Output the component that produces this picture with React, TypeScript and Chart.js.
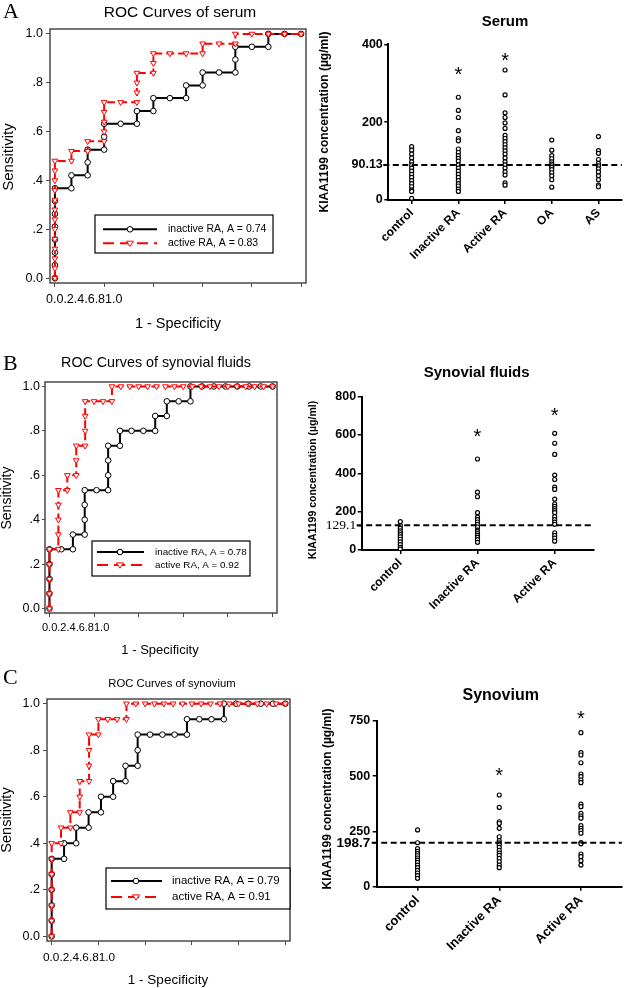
import React, { useEffect, useRef } from "react";
import { Chart, registerables } from "chart.js";
Chart.register(...registerables);

const SANS = "'Liberation Sans', Arial, Helvetica, sans-serif";
const SERIF = "'Liberation Serif', 'Times New Roman', serif";

// ---------------- DATA ----------------
// ROC common
const rocTicks = [0, 0.2, 0.4, 0.6, 0.8, 1.0];
const rocTickLabels = ["0.0", ".2", ".4", ".6", ".8", "1.0"];
const rocXTickRow = "0.0.2.4.6.81.0";
const rocXLabel = "1 - Specificity";
const rocYLabel = "Sensitivity";

// Panel A - serum ROC
const serumRocTitle = "ROC Curves of serum";
const serumRocLegend = ["inactive RA, A = 0.74", "active RA, A = 0.83"];
const serumInactiveFpr = [0, 0, 0, 0, 0, 0, 0, 0, 0.067, 0.067, 0.133, 0.133, 0.133, 0.2, 0.2, 0.2, 0.267, 0.333, 0.333, 0.4, 0.4, 0.467, 0.533, 0.533, 0.6, 0.6, 0.667, 0.733, 0.733, 0.733, 0.8, 0.867, 0.867, 0.933, 1];
const serumInactiveTpr = [0, 0.053, 0.105, 0.158, 0.211, 0.263, 0.316, 0.368, 0.368, 0.421, 0.421, 0.474, 0.526, 0.526, 0.579, 0.632, 0.632, 0.632, 0.684, 0.684, 0.737, 0.737, 0.737, 0.789, 0.789, 0.842, 0.842, 0.842, 0.895, 0.947, 0.947, 0.947, 1, 1, 1];
const serumActiveFpr = [0, 0, 0, 0, 0, 0, 0, 0, 0, 0, 0, 0, 0, 0.067, 0.067, 0.133, 0.133, 0.2, 0.2, 0.2, 0.2, 0.2, 0.267, 0.333, 0.333, 0.333, 0.333, 0.4, 0.4, 0.4, 0.467, 0.533, 0.6, 0.6, 0.667, 0.733, 0.733, 0.8, 0.867, 0.933, 1];
const serumActiveTpr = [0, 0.04, 0.08, 0.12, 0.16, 0.2, 0.24, 0.28, 0.32, 0.36, 0.4, 0.44, 0.48, 0.48, 0.52, 0.52, 0.56, 0.56, 0.6, 0.64, 0.68, 0.72, 0.72, 0.72, 0.76, 0.8, 0.84, 0.84, 0.88, 0.92, 0.92, 0.92, 0.92, 0.96, 0.96, 0.96, 1, 1, 1, 1, 1];

// Panel B - synovial fluid ROC
const fluidRocTitle = "ROC Curves of synovial fluids";
const fluidRocLegend = ["inactive RA, A = 0.78", "active RA, A = 0.92"];
const fluidInactiveFpr = [0, 0, 0, 0, 0, 0.053, 0.105, 0.105, 0.158, 0.158, 0.158, 0.158, 0.211, 0.263, 0.263, 0.263, 0.263, 0.316, 0.316, 0.368, 0.421, 0.474, 0.474, 0.526, 0.526, 0.579, 0.632, 0.632, 0.684, 0.737, 0.789, 0.842, 0.895, 0.947, 1];
const fluidInactiveTpr = [0, 0.067, 0.133, 0.2, 0.267, 0.267, 0.267, 0.333, 0.333, 0.4, 0.467, 0.533, 0.533, 0.533, 0.6, 0.667, 0.733, 0.733, 0.8, 0.8, 0.8, 0.8, 0.867, 0.867, 0.933, 0.933, 0.933, 1, 1, 1, 1, 1, 1, 1, 1];
const fluidActiveFpr = [0, 0, 0, 0, 0, 0.04, 0.04, 0.04, 0.04, 0.04, 0.08, 0.08, 0.12, 0.12, 0.12, 0.16, 0.16, 0.16, 0.16, 0.2, 0.24, 0.28, 0.28, 0.32, 0.36, 0.4, 0.44, 0.48, 0.52, 0.56, 0.6, 0.64, 0.68, 0.72, 0.76, 0.8, 0.84, 0.88, 0.92, 0.96, 1];
const fluidActiveTpr = [0, 0.067, 0.133, 0.2, 0.267, 0.267, 0.333, 0.4, 0.467, 0.533, 0.533, 0.6, 0.6, 0.667, 0.733, 0.733, 0.8, 0.867, 0.933, 0.933, 0.933, 0.933, 1, 1, 1, 1, 1, 1, 1, 1, 1, 1, 1, 1, 1, 1, 1, 1, 1, 1, 1];

// Panel C - synovium ROC
const tissueRocTitle = "ROC Curves of synovium";
const tissueRocLegend = ["inactive RA, A = 0.79", "active RA, A = 0.91"];
const tissueInactiveFpr = [0, 0, 0, 0, 0, 0, 0.053, 0.053, 0.105, 0.105, 0.158, 0.158, 0.211, 0.211, 0.263, 0.263, 0.316, 0.316, 0.368, 0.368, 0.368, 0.421, 0.474, 0.526, 0.579, 0.579, 0.632, 0.684, 0.737, 0.737, 0.789, 0.842, 0.895, 0.947, 1];
const tissueInactiveTpr = [0, 0.067, 0.133, 0.2, 0.267, 0.333, 0.333, 0.4, 0.4, 0.467, 0.467, 0.533, 0.533, 0.6, 0.6, 0.667, 0.667, 0.733, 0.733, 0.8, 0.867, 0.867, 0.867, 0.867, 0.867, 0.933, 0.933, 0.933, 0.933, 1, 1, 1, 1, 1, 1];
const tissueActiveFpr = [0, 0, 0, 0, 0, 0, 0, 0.04, 0.04, 0.08, 0.08, 0.12, 0.12, 0.12, 0.16, 0.16, 0.16, 0.16, 0.2, 0.2, 0.24, 0.28, 0.32, 0.32, 0.36, 0.4, 0.44, 0.48, 0.52, 0.56, 0.6, 0.64, 0.68, 0.72, 0.76, 0.8, 0.84, 0.88, 0.92, 0.96, 1];
const tissueActiveTpr = [0, 0.067, 0.133, 0.2, 0.267, 0.333, 0.4, 0.4, 0.467, 0.467, 0.533, 0.533, 0.6, 0.667, 0.667, 0.733, 0.8, 0.867, 0.867, 0.933, 0.933, 0.933, 0.933, 1, 1, 1, 1, 1, 1, 1, 1, 1, 1, 1, 1, 1, 1, 1, 1, 1, 1];

// Scatter panels
const yAxisTitle = "KIAA1199 concentration (\u00b5g/ml)";

const serumTitle = "Serum";
const serumCategories = ["control", "Inactive RA", "Active RA", "OA", "AS"];
const serumControl = [137, 128, 118, 108, 98, 90, 82, 74, 66, 58, 50, 42, 34, 26, 22, 4];
const serumInactive = [264, 230, 212, 178, 158, 152, 131, 122, 114, 107, 100, 90, 82, 74, 66, 58, 50, 42, 36, 28, 22];
const serumActive = [334, 270, 224, 212, 198, 184, 166, 158, 150, 142, 134, 126, 118, 108, 98, 90, 82, 72, 64, 44, 38];
const serumOA = [154, 128, 114, 106, 98, 92, 88, 84, 78, 70, 62, 52, 33];
const serumAS = [163, 127, 120, 104, 94, 88, 80, 72, 62, 52, 38, 34];
const serumCutoff = 90.13;
const serumYTicks = [0, 200, 400];
const serumStars = [null, 332, 367, null, null];

const fluidTitle = "Synovial fluids";
const fluidCategories = ["control", "Inactive RA", "Active RA"];
const fluidControl = [148, 127, 113, 100, 90, 80, 68, 56, 42, 28, 14, 5];
const fluidInactive = [475, 302, 278, 195, 172, 158, 146, 134, 120, 104, 96, 86, 76, 66, 54, 40];
const fluidActive = [609, 557, 499, 391, 368, 328, 316, 265, 240, 228, 216, 206, 195, 174, 158, 145, 134, 90, 76, 62, 46];
const fluidCutoff = 129.1;
const fluidYTicks = [0, 200, 400, 600, 800];
const fluidStars = [null, 609, 718];

const tissueTitle = "Synovium";
const tissueCategories = ["control", "Inactive RA", "Active RA"];
const tissueControl = [257, 199, 172, 160, 150, 140, 130, 120, 110, 98, 86, 74, 62, 50, 38];
const tissueInactive = [415, 359, 294, 286, 264, 226, 208, 198, 190, 178, 164, 152, 142, 128, 113, 98, 86];
const tissueActive = [697, 607, 596, 561, 510, 498, 483, 471, 374, 362, 332, 320, 310, 276, 264, 254, 242, 200, 194, 148, 136, 118, 98];
const tissueCutoff = 198.7;
const tissueYTicks = [0, 250, 500, 750];
const tissueStars = [null, 520, 777];

// ---------------- LAYOUT ----------------
type Rect = { x: number; y: number; w: number; h: number };
type Area = { l: number; t: number; r: number; b: number };

const FRAME = "#4a4a4a";
const RED = "#ff0000";

const rocLayouts = [
  {
    letter: "A", letterPos: [3, 18],
    rect: { x: 0, y: 0, w: 316, h: 338 }, area: { l: 50, t: 29, r: 306, b: 283 },
    title: [180, 13, 15.5], sens: [9, 157, 15], spec: [178, 324, 14.5], row: [46, 300, 12.5],
    tick: { size: 12.5, len: 4, pad: 3 },
    legend: { box: [95, 215, 273, 253], lineL: 103, lineR: 157, mx: 130, y1: 229.3, y2: 243.3, tx: 168, size: 10.5 },
  },
  {
    letter: "B", letterPos: [3, 370],
    rect: { x: 0, y: 338, w: 316, h: 322 }, area: { l: 45, t: 382, r: 277, b: 613 },
    title: [156, 363, 14.3], sens: [7, 498, 14], spec: [160, 650, 13], row: [42, 628, 11],
    tick: { size: 12.5, len: 3, pad: 2 },
    legend: { box: [92, 541, 250, 576], lineL: 97, lineR: 144, mx: 120, y1: 552, y2: 565, tx: 155, size: 9.8 },
  },
  {
    letter: "C", letterPos: [3, 684],
    rect: { x: 0, y: 660, w: 316, h: 328 }, area: { l: 47, t: 699, r: 290, b: 941 },
    title: [172, 684, 11.3], sens: [7, 820, 14.5], spec: [168, 980, 13.5], row: [43, 958, 11.8],
    tick: { size: 12.5, len: 4, pad: 3 },
    legend: { box: [106, 868, 290, 909], lineL: 111, lineR: 162, mx: 136, y1: 881, y2: 897, tx: 172, size: 11.5 },
  },
];

const scatterLayouts = [
  {
    rect: { x: 300, y: 0, w: 327, h: 262 }, area: { l: 388.3, t: 44.3, r: 623, b: 200 },
    title: [505, 22, 15], ytitle: [325, 122, 12], xfont: 12, tickPad: 1.5,
    cutFont: { family: SANS, size: 12.5, weight: "bold" },
  },
  {
    rect: { x: 300, y: 338, w: 327, h: 322 }, area: { l: 361.7, t: 396.7, r: 593.3, b: 550 },
    title: [476.7, 373, 15], ytitle: [313, 480, 10.5], xfont: 12, tickPad: 1.5,
    cutFont: { family: SERIF, size: 13.5, weight: "normal" },
  },
  {
    rect: { x: 300, y: 660, w: 327, h: 328 }, area: { l: 376.7, t: 721, r: 626.7, b: 886.7 },
    title: [500.7, 696, 16], ytitle: [328, 799, 12], xfont: 13, tickPad: 2.5,
    cutFont: { family: SANS, size: 13.5, weight: "bold" },
  },
];

function fitFns(rect: Rect, area: Area) {
  return {
    padding: { left: 0, top: area.t - rect.y, right: rect.x + rect.w - area.r, bottom: 0 },
    yFit: (s: any) => {
      s.width = area.l - rect.x;
      s.paddingTop = 0; s.paddingBottom = 0; s.paddingLeft = 0; s.paddingRight = 0;
    },
    xFit: (s: any) => {
      s.height = rect.y + rect.h - area.b;
      s.paddingTop = 0; s.paddingBottom = 0; s.paddingLeft = 0; s.paddingRight = 0;
    },
  };
}

function drawTriangleDown(ctx: CanvasRenderingContext2D, x: number, y: number, r: number) {
  ctx.beginPath();
  ctx.moveTo(x - r, y - r * 0.6);
  ctx.lineTo(x + r, y - r * 0.6);
  ctx.lineTo(x, y + r * 0.9);
  ctx.closePath();
  ctx.fillStyle = "#fff";
  ctx.fill();
  ctx.strokeStyle = RED;
  ctx.lineWidth = 1;
  ctx.stroke();
}

function makeRoc(canvas: HTMLCanvasElement, idx: number, title: string, legend: string[],
  inX: number[], inY: number[], acX: number[], acY: number[]) {
  const L: any = rocLayouts[idx];
  const f = fitFns(L.rect, L.area);
  const ox = L.rect.x, oy = L.rect.y;
  const decor = {
    id: "rocDecor" + idx,
    beforeDatasetsDraw(chart: any) {
      const ctx = chart.ctx, a = chart.chartArea;
      ctx.save();
      ctx.strokeStyle = FRAME;
      ctx.lineWidth = 1.5;
      ctx.strokeRect(a.left, a.top, a.right - a.left, a.bottom - a.top);
      ctx.restore();
    },
    afterDraw(chart: any) {
      const ctx: CanvasRenderingContext2D = chart.ctx;
      ctx.save();
      ctx.fillStyle = "#000";
      ctx.font = `22px ${SERIF}`;
      ctx.textAlign = "left";
      ctx.textBaseline = "alphabetic";
      ctx.fillText(L.letter, L.letterPos[0] - ox, L.letterPos[1] - oy);

      ctx.textBaseline = "middle";
      ctx.textAlign = "center";
      ctx.font = `${L.title[2]}px ${SANS}`;
      ctx.fillText(title, L.title[0] - ox, L.title[1] - oy);
      ctx.font = `${L.spec[2]}px ${SANS}`;
      ctx.fillText(rocXLabel, L.spec[0] - ox, L.spec[1] - oy);
      ctx.save();
      ctx.translate(L.sens[0] - ox, L.sens[1] - oy);
      ctx.rotate(-Math.PI / 2);
      ctx.font = `${L.sens[2]}px ${SANS}`;
      ctx.fillText(rocYLabel, 0, 0);
      ctx.restore();
      ctx.textAlign = "left";
      ctx.font = `${L.row[2]}px ${SANS}`;
      ctx.fillText(rocXTickRow, L.row[0] - ox, L.row[1] - oy);

      // legend
      const g = L.legend;
      const bx = g.box[0] - ox, by = g.box[1] - oy, bw = g.box[2] - g.box[0], bh = g.box[3] - g.box[1];
      ctx.fillStyle = "#fff";
      ctx.fillRect(bx, by, bw, bh);
      ctx.strokeStyle = "#000";
      ctx.lineWidth = 1.2;
      ctx.strokeRect(bx, by, bw, bh);
      // black
      ctx.beginPath();
      ctx.moveTo(g.lineL - ox, g.y1 - oy);
      ctx.lineTo(g.lineR - ox, g.y1 - oy);
      ctx.lineWidth = 2;
      ctx.strokeStyle = "#000";
      ctx.stroke();
      ctx.beginPath();
      ctx.arc(g.mx - ox, g.y1 - oy, 2.8, 0, Math.PI * 2);
      ctx.fillStyle = "#fff";
      ctx.fill();
      ctx.lineWidth = 1;
      ctx.stroke();
      // red
      ctx.beginPath();
      ctx.setLineDash([11, 6]);
      ctx.moveTo(g.lineL - ox, g.y2 - oy);
      ctx.lineTo(g.lineR - ox, g.y2 - oy);
      ctx.lineWidth = 2;
      ctx.strokeStyle = RED;
      ctx.stroke();
      ctx.setLineDash([]);
      drawTriangleDown(ctx, g.mx - ox, g.y2 - oy, 3.5);
      ctx.fillStyle = "#000";
      ctx.font = `${g.size}px ${SANS}`;
      ctx.textBaseline = "middle";
      ctx.fillText(legend[0], g.tx - ox, g.y1 - oy);
      ctx.fillText(legend[1], g.tx - ox, g.y2 - oy);
      ctx.restore();
    },
  };
  return new Chart(canvas, {
    type: "line",
    data: {
      datasets: [
        {
          label: "active RA",
          data: acX.map((x, i) => ({ x, y: acY[i] })),
          borderColor: RED, borderWidth: 2, borderDash: [8, 4],
          pointStyle: "triangle", rotation: 180, pointRadius: 3.3,
          pointBorderColor: RED, pointBackgroundColor: "#fff", pointBorderWidth: 1,
          tension: 0, fill: false,
        } as any,
        {
          label: "inactive RA",
          data: inX.map((x, i) => ({ x, y: inY[i] })),
          borderColor: "#000", borderWidth: 2,
          pointStyle: "circle", pointRadius: 2.8,
          pointBorderColor: "#000", pointBackgroundColor: "#fff", pointBorderWidth: 1,
          tension: 0, fill: false,
        } as any,
      ],
    },
    plugins: [decor],
    options: {
      responsive: false, animation: false, devicePixelRatio: 1,
      layout: { padding: f.padding },
      plugins: { legend: { display: false }, tooltip: { enabled: false }, title: { display: false } },
      scales: {
        x: {
          type: "linear", min: -0.02, max: 1.02,
          afterBuildTicks: (s: any) => { s.ticks = rocTicks.map((v) => ({ value: v })); },
          afterFit: f.xFit,
          grid: { display: true, drawOnChartArea: false, drawTicks: true, tickLength: 4, color: FRAME, lineWidth: 1 },
          border: { display: false },
          ticks: { display: false },
        },
        y: {
          type: "linear", min: -0.02, max: 1.02,
          afterBuildTicks: (s: any) => { s.ticks = rocTicks.map((v) => ({ value: v })); },
          afterFit: f.yFit,
          grid: { display: true, drawOnChartArea: false, drawTicks: true, tickLength: L.tick.len, color: FRAME, lineWidth: 1 },
          border: { display: false },
          ticks: {
            autoSkip: false,
            padding: L.tick.pad,
            color: "#000",
            font: { family: SANS, size: L.tick.size },
            callback: (v: any) => rocTickLabels[rocTicks.indexOf(Number(v))] ?? "",
          },
        },
      },
    } as any,
  });
}

function makeScatter(canvas: HTMLCanvasElement, idx: number, title: string, cats: string[], groups: number[][],
  cutoff: number, yTicks: number[], stars: (number | null)[]) {
  const L: any = scatterLayouts[idx];
  const f = fitFns(L.rect, L.area);
  const ox = L.rect.x, oy = L.rect.y;
  const yMax = yTicks[yTicks.length - 1];
  const points = cats.flatMap((c, i) => groups[i].map((v) => ({ x: c, y: v })));
  const decor = {
    id: "scDecor" + idx,
    afterDatasetsDraw(chart: any) {
      const ctx: CanvasRenderingContext2D = chart.ctx;
      const ys = chart.scales.y, xs = chart.scales.x, a = chart.chartArea;
      ctx.save();
      // cutoff line
      const cy = ys.getPixelForValue(cutoff);
      ctx.beginPath();
      ctx.setLineDash([6, 3.5]);
      ctx.moveTo(a.left - 5, cy);
      ctx.lineTo(a.right, cy);
      ctx.strokeStyle = "#000";
      ctx.lineWidth = 2;
      ctx.stroke();
      ctx.setLineDash([]);
      // stars
      ctx.fillStyle = "#000";
      ctx.font = `20px ${SANS}`;
      ctx.textAlign = "center";
      ctx.textBaseline = "middle";
      stars.forEach((s, i) => {
        if (s == null) return;
        ctx.fillText("*", xs.getPixelForValue(i), ys.getPixelForValue(s) + 4.5);
      });
      // title
      ctx.font = `bold ${L.title[2]}px ${SANS}`;
      ctx.fillText(title, L.title[0] - ox, L.title[1] - oy);
      // y axis title
      ctx.save();
      ctx.translate(L.ytitle[0] - ox, L.ytitle[1] - oy);
      ctx.rotate(-Math.PI / 2);
      ctx.font = `bold ${L.ytitle[2]}px ${SANS}`;
      ctx.fillText(yAxisTitle, 0, 0);
      ctx.restore();
      ctx.restore();
    },
  };
  const mainFont = { family: SANS, size: 12.5, weight: "bold" };
  return new Chart(canvas, {
    type: "scatter",
    data: {
      labels: cats,
      datasets: [
        {
          data: points,
          pointStyle: "circle", pointRadius: 2,
          pointBorderColor: "#000", pointBackgroundColor: "#fff", pointBorderWidth: 1.2,
        } as any,
      ],
    },
    plugins: [decor],
    options: {
      responsive: false, animation: false, devicePixelRatio: 1,
      layout: { padding: f.padding },
      plugins: { legend: { display: false }, tooltip: { enabled: false }, title: { display: false } },
      scales: {
        x: {
          type: "category", labels: cats, offset: true,
          afterFit: f.xFit,
          grid: { display: true, offset: false, drawOnChartArea: false, drawTicks: true, tickLength: 4, color: "#000", lineWidth: 1.5 },
          border: { display: true, color: "#000", width: 2 },
          ticks: {
            autoSkip: false, maxRotation: 45, minRotation: 45, padding: 2, color: "#000",
            font: { family: SANS, size: L.xfont, weight: "bold" },
          },
        },
        y: {
          type: "linear", min: 0, max: yMax,
          afterBuildTicks: (s: any) => {
            s.ticks = [...yTicks, cutoff].sort((p, q) => p - q).map((v) => ({ value: v }));
          },
          afterFit: f.yFit,
          grid: { display: true, drawOnChartArea: false, drawTicks: true, tickLength: 4, color: "#000", lineWidth: 1.5 },
          border: { display: true, color: "#000", width: 2 },
          ticks: {
            autoSkip: false, padding: L.tickPad, color: "#000",
            font: (c: any) => (c.tick && Math.abs(c.tick.value - cutoff) < 1e-6 ? L.cutFont : mainFont),
            callback: (v: any) => String(v),
          },
        },
      },
    } as any,
  });
}

function ChartBox({ rect, make }: { rect: Rect; make: (c: HTMLCanvasElement) => Chart }) {
  const ref = useRef<HTMLCanvasElement>(null);
  useEffect(() => {
    const chart = make(ref.current as HTMLCanvasElement);
    return () => chart.destroy();
  }, []);
  return (
    <canvas
      ref={ref}
      width={rect.w}
      height={rect.h}
      style={{ position: "absolute", left: rect.x, top: rect.y, width: rect.w, height: rect.h, display: "block" }}
    />
  );
}

export default function App() {
  return (
    <div style={{ position: "absolute", left: 0, top: 0, width: 627, height: 988, overflow: "hidden", background: "#fff" }}>
      <ChartBox rect={rocLayouts[0].rect} make={(c) => makeRoc(c, 0, serumRocTitle, serumRocLegend, serumInactiveFpr, serumInactiveTpr, serumActiveFpr, serumActiveTpr)} />
      <ChartBox rect={rocLayouts[1].rect} make={(c) => makeRoc(c, 1, fluidRocTitle, fluidRocLegend, fluidInactiveFpr, fluidInactiveTpr, fluidActiveFpr, fluidActiveTpr)} />
      <ChartBox rect={rocLayouts[2].rect} make={(c) => makeRoc(c, 2, tissueRocTitle, tissueRocLegend, tissueInactiveFpr, tissueInactiveTpr, tissueActiveFpr, tissueActiveTpr)} />
      <ChartBox rect={scatterLayouts[0].rect} make={(c) => makeScatter(c, 0, serumTitle, serumCategories, [serumControl, serumInactive, serumActive, serumOA, serumAS], serumCutoff, serumYTicks, serumStars)} />
      <ChartBox rect={scatterLayouts[1].rect} make={(c) => makeScatter(c, 1, fluidTitle, fluidCategories, [fluidControl, fluidInactive, fluidActive], fluidCutoff, fluidYTicks, fluidStars)} />
      <ChartBox rect={scatterLayouts[2].rect} make={(c) => makeScatter(c, 2, tissueTitle, tissueCategories, [tissueControl, tissueInactive, tissueActive], tissueCutoff, tissueYTicks, tissueStars)} />
    </div>
  );
}
